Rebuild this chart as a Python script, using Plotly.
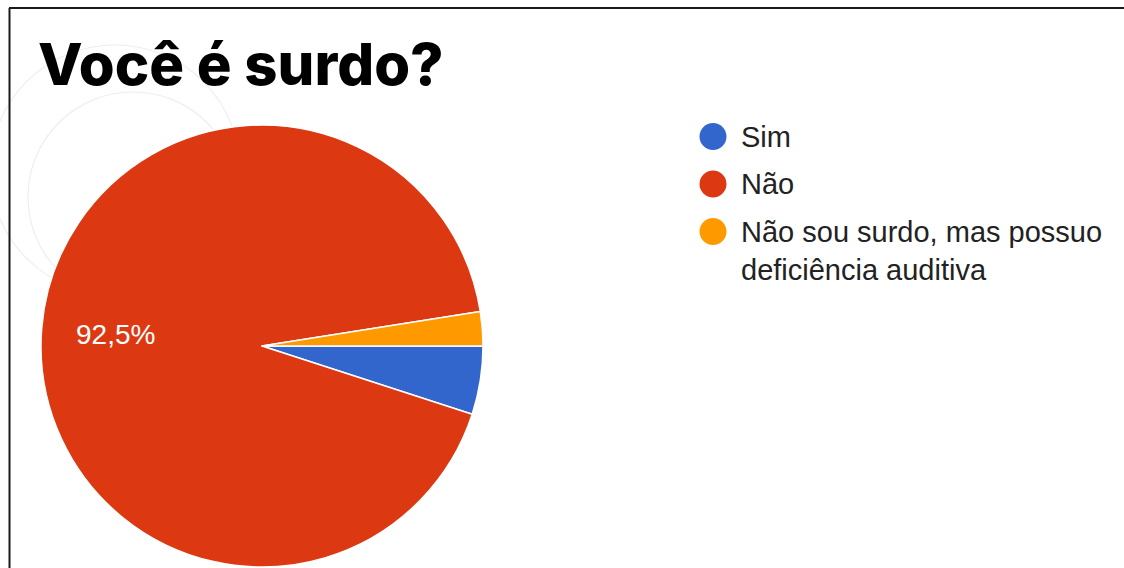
import math
import plotly.graph_objects as go

W, H = 1124, 568

labels = ["Sim", "Não", "Não sou surdo, mas possuo<br>deficiência auditiva"]
values = [2, 37, 1]
colors = ["#3366cc", "#dc3912", "#ff9900"]
title_text = "Você é surdo?"

def px(x):
    return x / W

def py(y):
    return 1 - y / H

cx, cy, r = 262, 346, 221

fig = go.Figure()
fig.add_trace(go.Pie(
    labels=labels,
    values=values,
    sort=False,
    direction="clockwise",
    rotation=90,
    marker=dict(colors=colors, line=dict(color="white", width=1.5)),
    textinfo="none",
    showlegend=False,
    hoverinfo="label+percent",
    domain=dict(x=[px(cx - r), px(cx + r)], y=[py(cy + r), py(cy - r)]),
))

shapes = []
annotations = []

# percent label for the big slice (placed on its bisector)
total = sum(values)
start = sum(values[:1]) / total * 360
span = values[1] / total * 360
mid = math.radians(start + span / 2)  # clockwise from 3 o'clock
lab_r = 0.665 * r
lx = cx + lab_r * math.cos(mid)
ly = cy + lab_r * math.sin(mid)
pct = f"{values[1] / total * 100:.1f}%".replace(".", ",")
annotations.append(dict(text=pct, xref="paper", yref="paper", x=px(lx), y=py(ly),
                        xanchor="center", yanchor="middle", showarrow=False,
                        font=dict(family="Liberation Sans, Arial", size=28, color="white")))

# faint decorative circles
for (ccx, ccy, rr) in [(133, 197, 105), (115, 170, 125)]:
    shapes.append(dict(type="circle", xref="paper", yref="paper",
                       x0=px(ccx - rr), x1=px(ccx + rr), y0=py(ccy + rr), y1=py(ccy - rr),
                       line=dict(color="#eeeeee", width=1.2), layer="below"))

# frame lines
shapes.append(dict(type="line", xref="paper", yref="paper", x0=px(9.5), x1=px(9.5), y0=py(8), y1=py(H),
                   line=dict(color="#1a1a1a", width=2)))
shapes.append(dict(type="line", xref="paper", yref="paper", x0=px(9), x1=px(W + 5), y0=py(8), y1=py(8),
                   line=dict(color="#1a1a1a", width=2)))

# legend
leg_x, leg_y0, leg_dy, dot_r = 713, 136.5, 47.5, 13.5
for i, (lab, col) in enumerate(zip(labels, colors)):
    yc = leg_y0 + i * leg_dy
    shapes.append(dict(type="circle", xref="paper", yref="paper",
                       x0=px(leg_x - dot_r), x1=px(leg_x + dot_r),
                       y0=py(yc + dot_r), y1=py(yc - dot_r),
                       fillcolor=col, line=dict(color=col, width=0)))
    annotations.append(dict(text=lab, xref="paper", yref="paper", x=px(739), y=py(yc - 18),
                            xanchor="left", yanchor="top", showarrow=False, align="left",
                            font=dict(family="Liberation Sans, Arial", size=29, color="#222222")))

# title
annotations.append(dict(text=title_text, xref="paper", yref="paper", x=px(36), y=py(101),
                        xanchor="left", yanchor="bottom", showarrow=False,
                        font=dict(family="Inter", size=58, color="#000000", weight=800)))

fig.update_layout(
    width=W, height=H,
    margin=dict(l=0, r=0, t=0, b=0),
    paper_bgcolor="white", plot_bgcolor="white",
    shapes=shapes,
    annotations=annotations,
)

fig.write_html("out.html")
